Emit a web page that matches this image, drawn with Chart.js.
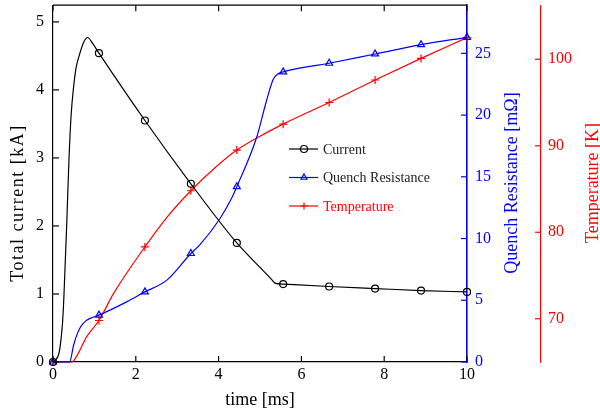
<!DOCTYPE html>
<html>
<head>
<meta charset="utf-8">
<script src="https://cdn.jsdelivr.net/npm/chart.js@4.4.1/dist/chart.umd.min.js"></script>
<style>
  html, body { margin: 0; padding: 0; background: #fff; }
</style>
</head>
<body>
<canvas id="quenchChart" width="600" height="416"></canvas>
<script>
// values (time in ms)
const currentTime = [0, 0.06, 0.145, 0.2, 0.234, 0.266, 0.33, 0.387, 0.44, 0.49, 0.556, 0.636, 0.749, 0.838, 0.95, 1.11, 2.22, 3.33, 4.44, 5.0, 5.3, 5.36, 5.56, 6.67, 7.78, 8.89, 10];
const currentKA = [0, 0.03, 0.13, 0.37, 0.61, 1.0, 2.0, 3.0, 3.65, 4.0, 4.32, 4.51, 4.71, 4.77, 4.69, 4.54, 3.55, 2.62, 1.75, 1.39, 1.2, 1.16, 1.145, 1.11, 1.08, 1.05, 1.03];

const resTime = [0, 0.4, 0.5, 0.6, 0.7, 0.8, 0.95, 1.11, 1.78, 2.22, 2.75, 3.33, 3.55, 4.03, 4.32, 4.44, 4.92, 5.16, 5.32, 5.42, 5.56, 6.67, 7.78, 8.89, 10];
const resMOhm = [0, 0, 1.4, 2.4, 3.0, 3.35, 3.6, 3.8, 4.87, 5.68, 6.63, 8.79, 9.5, 11.6, 13.3, 14.2, 18.2, 21.2, 22.9, 23.3, 23.5, 24.2, 24.95, 25.7, 26.3];

const tempTime = [0, 0.45, 0.61, 0.81, 1.11, 1.46, 2.22, 2.8, 3.33, 3.9, 4.44, 5.0, 5.56, 6.67, 7.78, 8.89, 10];
const tempK = [65, 65, 66.0, 67.9, 69.8, 72.9, 78.3, 82.0, 84.8, 87.4, 89.5, 91.1, 92.5, 95.0, 97.6, 100.1, 102.5];

// samples that carry a marker
const markerTime = [0, 1.11, 2.22, 3.33, 4.44, 5.56, 6.67, 7.78, 8.89, 10];

const timeTicks = [0, 2, 4, 6, 8, 10];
const currentTicks = [0, 1, 2, 3, 4, 5];
const resTicks = [0, 5, 10, 15, 20, 25];
const tempTicks = [70, 80, 90, 100];

const serif = "'Liberation Serif', 'DejaVu Serif', serif";
const BLUE = "#0000ff";
const RED = "#ff0000";

const toPoints = (xs, ys) => xs.map((x, i) => ({ x: x, y: ys[i] }));
const markerRadius = (r) => (ctx) => (markerTime.includes(ctx.raw.x) ? r : 0);

function line(ctx, x1, y1, x2, y2) {
  ctx.beginPath();
  ctx.moveTo(x1, y1);
  ctx.lineTo(x2, y2);
  ctx.stroke();
}

function vertTitle(ctx, text, x, y, color, spacing) {
  ctx.save();
  ctx.translate(x, y);
  ctx.rotate(-Math.PI / 2);
  ctx.fillStyle = color;
  ctx.font = "18px " + serif;
  if (spacing) ctx.letterSpacing = spacing;
  ctx.textAlign = "center";
  ctx.textBaseline = "middle";
  ctx.fillText(text, 0, 0);
  ctx.restore();
}

// frame top, inward ticks, rotated axis titles, legend
const decorations = {
  id: "decorations",
  afterDraw(chart) {
    const { ctx, chartArea: a, scales } = chart;
    ctx.save();
    ctx.lineWidth = 1.2;

    ctx.strokeStyle = "#000";
    line(ctx, a.left, a.top, a.right, a.top);

    const tk = 6;
    timeTicks.forEach((v) => {
      const x = scales.x.getPixelForValue(v);
      line(ctx, x, a.bottom, x, a.bottom - tk);
      line(ctx, x, a.top, x, a.top + tk);
    });
    currentTicks.forEach((v) => {
      const y = scales.y.getPixelForValue(v);
      line(ctx, a.left, y, a.left + tk, y);
    });

    ctx.strokeStyle = BLUE;
    resTicks.forEach((v) => {
      const y = scales.y1.getPixelForValue(v);
      line(ctx, a.right - tk, y, a.right, y);
    });

    ctx.strokeStyle = RED;
    const rx = scales.y2.left;
    tempTicks.forEach((v) => {
      const y = scales.y2.getPixelForValue(v);
      line(ctx, rx - tk, y, rx, y);
    });

    vertTitle(ctx, "Total current [kA]", 18, 203, "#000", "1.5px");
    vertTitle(ctx, "Quench Resistance [m\u03A9]", 512, 183, BLUE);
    vertTitle(ctx, "Temperature [K]", 593, 183, RED);

    // legend
    const lx = 289, ly = 149, gap = 28.5;
    ctx.font = "14px " + serif;
    ctx.textBaseline = "middle";
    ctx.textAlign = "left";
    chart.data.datasets.forEach((ds, i) => {
      const y = ly + i * gap;
      ctx.strokeStyle = ds.borderColor;
      ctx.lineWidth = 1.2;
      line(ctx, lx, y, lx + 29, y);
      ctx.fillStyle = ds.pointBackgroundColor;
      Chart.helpers.drawPoint(ctx, { pointStyle: ds.pointStyle, radius: 3.5, rotation: 0, borderWidth: 1.2 }, lx + 15, y);
      ctx.fillStyle = ds.legendText;
      ctx.fillText(ds.label, lx + 34, y + 1);
    });
    ctx.restore();
  }
};

function fixWidth(w) {
  return (s) => { s.width = w; s.paddingTop = 0; s.paddingBottom = 0; };
}

new Chart(document.getElementById("quenchChart"), {
  type: "line",
  data: {
    datasets: [
      {
        label: "Current",
        data: toPoints(currentTime, currentKA),
        yAxisID: "y",
        borderColor: "#000",
        borderWidth: 1.2,
        pointStyle: "circle",
        pointRadius: markerRadius(3.5),
        pointBorderColor: "#000",
        pointBackgroundColor: "rgba(0,0,0,0)",
        pointBorderWidth: 1.2,
        legendText: "#222",
        cubicInterpolationMode: "monotone",
        clip: false
      },
      {
        label: "Quench Resistance",
        data: toPoints(resTime, resMOhm),
        yAxisID: "y1",
        borderColor: BLUE,
        borderWidth: 1.2,
        pointStyle: "triangle",
        pointRadius: markerRadius(4),
        pointBorderColor: BLUE,
        pointBackgroundColor: "rgba(0,0,0,0)",
        pointBorderWidth: 1.2,
        legendText: "#222",
        cubicInterpolationMode: "monotone",
        clip: false
      },
      {
        label: "Temperature",
        data: toPoints(tempTime, tempK),
        yAxisID: "y2",
        borderColor: RED,
        borderWidth: 1.2,
        pointStyle: "cross",
        pointRadius: markerRadius(4),
        pointBorderColor: RED,
        pointBackgroundColor: RED,
        pointBorderWidth: 1.2,
        legendText: RED,
        cubicInterpolationMode: "monotone",
        clip: false
      }
    ]
  },
  options: {
    responsive: false,
    animation: false,
    layout: { padding: { top: 5 } },
    plugins: {
      legend: { display: false },
      tooltip: { enabled: false }
    },
    scales: {
      x: {
        type: "linear",
        position: "bottom",
        min: 0,
        max: 10,
        grid: { drawOnChartArea: false, drawTicks: false },
        border: { color: "#000", width: 1.2 },
        ticks: { color: "#000", padding: 3, font: { family: serif, size: 16 } },
        afterBuildTicks: (s) => { s.ticks = timeTicks.map((v) => ({ value: v })); },
        afterFit: (s) => { s.height = 54; s.paddingLeft = 0; s.paddingRight = 0; },
        title: {
          display: true,
          text: "time [ms]",
          color: "#000",
          font: { family: serif, size: 18 },
          padding: { top: 0, bottom: 5 }
        }
      },
      y: {
        type: "linear",
        position: "left",
        min: 0,
        max: 5.245,
        grid: { drawOnChartArea: false, drawTicks: false },
        border: { color: "#000", width: 1.2 },
        ticks: { color: "#000", padding: 9, font: { family: serif, size: 16 } },
        afterBuildTicks: (s) => { s.ticks = currentTicks.map((v) => ({ value: v })); },
        afterFit: fixWidth(53)
      },
      y1: {
        type: "linear",
        position: "right",
        weight: 0,
        min: 0,
        max: 28.9,
        grid: { drawOnChartArea: false, drawTicks: false },
        border: { color: BLUE, width: 1.6 },
        ticks: { color: BLUE, padding: 8, font: { family: serif, size: 16 } },
        afterBuildTicks: (s) => { s.ticks = resTicks.map((v) => ({ value: v })); },
        afterFit: fixWidth(74)
      },
      y2: {
        type: "linear",
        position: "right",
        weight: 1,
        min: 65,
        max: 106.25,
        grid: { drawOnChartArea: false, drawTicks: false },
        border: { color: RED, width: 1.2 },
        ticks: { color: RED, padding: 7, font: { family: serif, size: 16 } },
        afterBuildTicks: (s) => { s.ticks = tempTicks.map((v) => ({ value: v })); },
        afterFit: fixWidth(59)
      }
    }
  },
  plugins: [decorations]
});
</script>
</body>
</html>
